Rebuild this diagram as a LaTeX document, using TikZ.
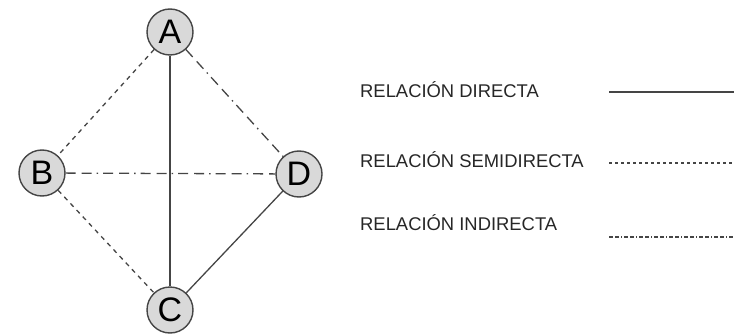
\documentclass[tikz,border=0pt]{standalone}
\usepackage{fontspec}
\setmainfont{Liberation Sans}
\definecolor{linegray}{HTML}{454545}
\definecolor{nodegray}{HTML}{D9D9D9}
\tikzset{
every node/.style={inner sep=0pt},
letter/.style= {circle, draw=linegray, fill=nodegray, line width=1.4pt, minimum size=46pt, font=\fontsize{34}{34}\selectfont},
legendtext/.style= {anchor=base west, text=black!85, font=\fontsize{18.4}{20}\selectfont},
directline/.style= {draw=linegray, line width=1.3pt},
semiline/.style= {draw=linegray, line width=1.3pt, dash pattern=on 4.5pt off 4.5pt},
indirectline/.style= {draw=linegray, line width=1.3pt, dash pattern=on 10pt off 6pt on 10pt off 5pt on 1.5pt off 5pt}
}

\begin{document}
\begin{tikzpicture}[x=1pt,y=-1pt]
\useasboundingbox (0,0) rectangle (749,334);

% the four elements
\node[letter] (A) at (170,32) {A};
\node[letter] (B) at (42,173) {B};
\node[letter] (D) at (299,174) {D};
\node[letter] (C) at (170,310) {C};

% relations between the elements
\draw[directline] (A) -- (C);
\draw[directline] (C) -- (D);
\draw[semiline] (A) -- (B);
\draw[semiline] (B) -- (C);
\draw[indirectline] (B) -- (D);
\draw[indirectline] (A) -- (D);

% the legend
\node[legendtext] (t1) at (360,98) {RELACIÓN DIRECTA};
\node[legendtext] (t2) at (360,167) {RELACIÓN SEMIDIRECTA};
\node[legendtext] (t3) at (360,230) {RELACIÓN INDIRECTA};

\coordinate (l1a) at (609,92);  \coordinate (l1b) at (734,92);
\coordinate (l2a) at (609,163); \coordinate (l2b) at (734,163);
\coordinate (l3a) at (609,237); \coordinate (l3b) at (734,237);

\draw[directline] (l1a) -- (l1b);
\draw[semiline,dash pattern=on 3pt off 3pt] (l2a) -- (l2b);
\draw[indirectline,dash pattern=on 4pt off 2pt on 4pt off 2pt on 1pt off 2pt] (l3a) -- (l3b);

\end{tikzpicture}
\end{document}
